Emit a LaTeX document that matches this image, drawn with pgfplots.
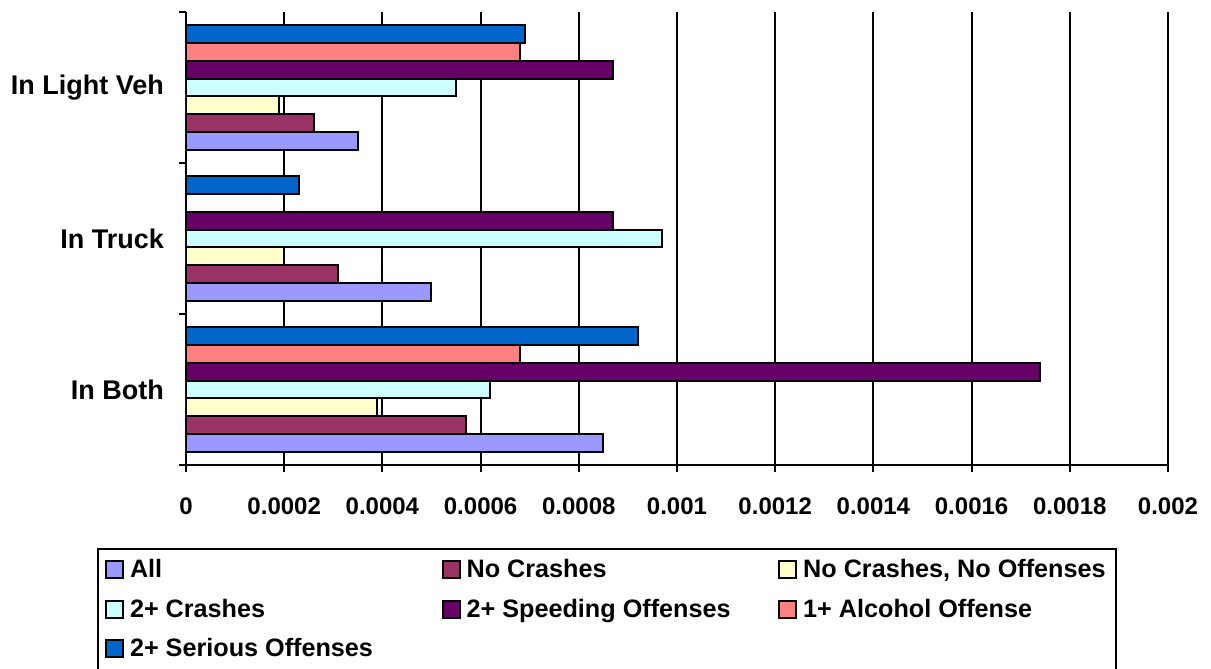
\documentclass[border=0pt]{standalone}
\usepackage{fontspec}
\setmainfont{Liberation Sans}
\usepackage{pgfplots}
\pgfplotsset{compat=1.18}

\definecolor{cAll}{HTML}{9999FF}
\definecolor{cNoCrash}{HTML}{993366}
\definecolor{cNoCrashNoOff}{HTML}{FFFFCC}
\definecolor{cCrashes}{HTML}{CCFFFF}
\definecolor{cSpeed}{HTML}{660066}
\definecolor{cAlcohol}{HTML}{FF8080}
\definecolor{cSerious}{HTML}{0066CC}

\newcommand{\tickfont}{\bfseries\fontsize{12}{14}\selectfont}
\newcommand{\catfont}{\bfseries\fontsize{13.5}{16}\selectfont}
\newcommand{\legfont}{\bfseries\fontsize{12.6}{15}\selectfont}
\newcommand{\lent}[1]{\makebox[152.8pt][l]{#1}}

\begin{document}
\begin{tikzpicture}
\useasboundingbox (-93pt,-102pt) rectangle (512.5pt,232.5pt);
\begin{axis}[
  at={(0,0)}, anchor=south west,
  scale only axis, width=491pt, height=226.5pt,
  xbar=0pt, bar width=0.118,
  xmin=0, xmax=0.002, ymin=-0.5, ymax=2.5,
  axis x line*=bottom, axis y line*=left,
  axis line style={-, black, line width=1pt},
  xmajorgrids, grid style={black, line width=1pt},
  xtick={0,0.0002,0.0004,0.0006,0.0008,0.001,0.0012,0.0014,0.0016,0.0018,0.002},
  xticklabels={0,0.0002,0.0004,0.0006,0.0008,0.001,0.0012,0.0014,0.0016,0.0018,0.002},
  scaled x ticks=false,
  ytick={0,1,2},
  yticklabels={In Both,In Truck,In Light Veh},
  minor ytick={-0.5,0.5,1.5,2.5},
  tick align=outside, major tick length=3.5pt, minor tick length=3.5pt,
  major y tick style={draw=none},
  minor y tick style={draw=black, line width=1pt},
  major x tick style={draw=black, line width=1pt},
  xticklabel style={font=\tickfont, yshift=-9.5pt},
  yticklabel style={font=\catfont, xshift=-4pt},
  /pgf/number format/assume math mode=true,
  legend columns=3,
  legend image code/.code={\draw[#1,line width=1pt] (0pt,-4.25pt) rectangle (8.5pt,4.25pt);},
  legend style={at={(-0.0906,-0.1832)}, anchor=north west, draw=black, line width=1pt,
    inner xsep=3.5pt, inner ysep=0.6pt, column sep=3pt, row sep=0pt,
    nodes={inner sep=0pt, minimum height=19.75pt}, font=\legfont},
  every axis plot/.append style={draw=black, line width=1pt},
]
\addplot[fill=cAll] coordinates {(0.00085,0) (0.00050,1) (0.00035,2)};
\addlegendentry{\lent{All}}
\addplot[fill=cNoCrash] coordinates {(0.00057,0) (0.00031,1) (0.00026,2)};
\addlegendentry{\lent{No Crashes}}
\addplot[fill=cNoCrashNoOff] coordinates {(0.00039,0) (0.00020,1) (0.00019,2)};
\addlegendentry{\lent{No Crashes, No Offenses}}
\addplot[fill=cCrashes] coordinates {(0.00062,0) (0.00097,1) (0.00055,2)};
\addlegendentry{\lent{2+ Crashes}}
\addplot[fill=cSpeed] coordinates {(0.00174,0) (0.00087,1) (0.00087,2)};
\addlegendentry{\lent{2+ Speeding Offenses}}
\addplot[fill=cAlcohol] coordinates {(0.00068,0) (0.00068,2)};
\addlegendentry{\lent{1+ Alcohol Offense}}
\addplot[fill=cSerious] coordinates {(0.00092,0) (0.00023,1) (0.00069,2)};
\addlegendentry{\lent{2+ Serious Offenses}}
\end{axis}
\end{tikzpicture}
\end{document}
